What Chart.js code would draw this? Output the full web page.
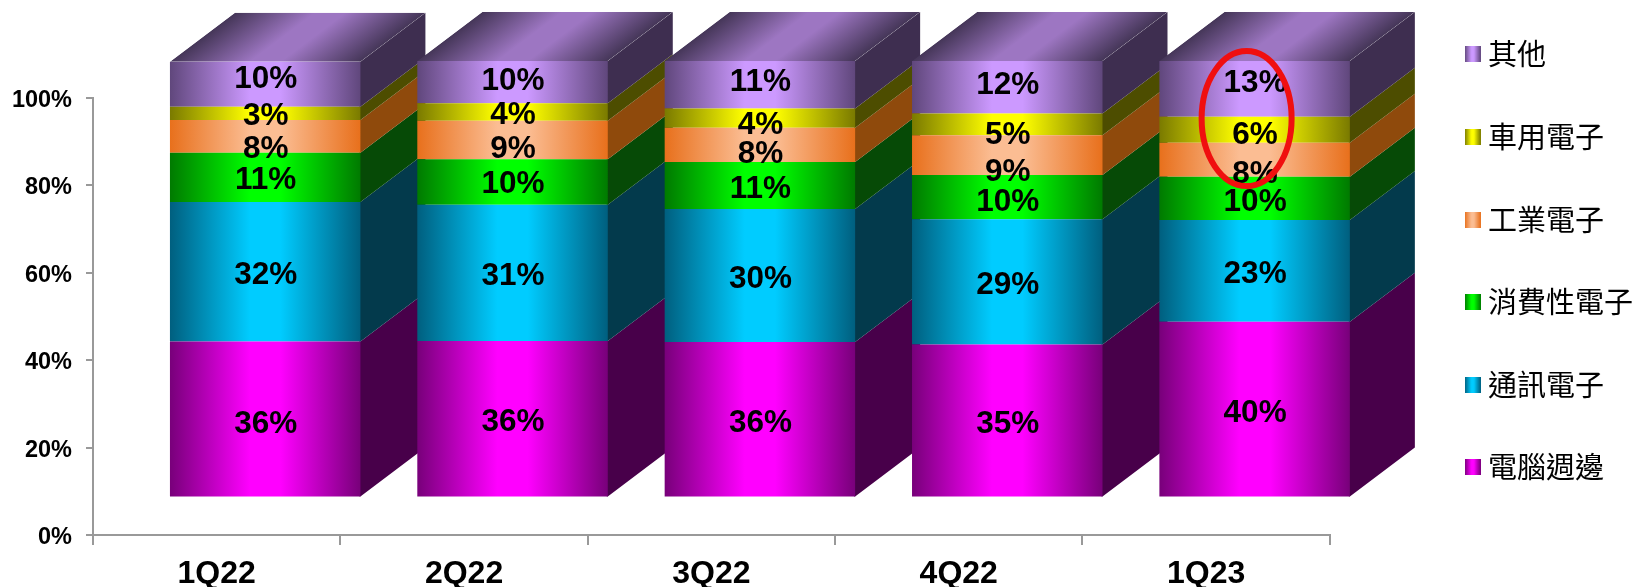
<!DOCTYPE html>
<html>
<head>
<meta charset="utf-8">
<title>1Q22-1Q23 應用別比重</title>
<script src="https://cdn.jsdelivr.net/npm/chart.js@4"></script>
<style>
  html, body { margin: 0; padding: 0; background: #fff; }
  canvas { display: block; }
</style>
</head>
<body>
<canvas id="share-chart" width="1636" height="587"></canvas>
<script>
// === 1. Data ===

const quarters = ['1Q22', '2Q22', '3Q22', '4Q22', '1Q23'];
const yTickLabels = ['0%', '20%', '40%', '60%', '80%', '100%'];

// Share per quarter (%), bottom of the stack first
const pcPeripheral = [35.7, 35.8, 35.6, 35.0, 40.2];
const communication = [31.9, 31.2, 30.4, 28.7, 23.3];
const consumer = [11.3, 10.4, 10.8, 10.1, 9.9];
const industrial = [7.5, 8.8, 7.8, 9.1, 7.8];
const automotive = [3.0, 4.0, 4.4, 5.0, 5.9];
const others = [10.3, 9.7, 10.9, 12.0, 12.8];

const seriesNames = ['電腦週邊', '通訊電子', '消費性電子', '工業電子', '車用電子', '其他'];
const seriesValues = [pcPeripheral, communication, consumer, industrial, automotive, others];

// === 2. Styles ===

// [edge of the front face, middle of the front face, side face]
const seriesColors = [
  ['#78007a', '#ff00ff', '#48004a'],
  ['#005f7f', '#00ccff', '#033a4c'],
  ['#007a00', '#00ff00', '#064a06'],
  ['#e8701c', '#fbbd93', '#8f4a0c'],
  ['#7a7a00', '#ffff00', '#4d4d00'],
  ['#60477c', '#cc99ff', '#3e2e50']
];
const topEdge = '#453658';
const topMiddle = '#9d76c2';

const FONT = '"Liberation Sans", Arial, sans-serif';
const CJK_FONT = '"Noto Sans CJK TC", sans-serif';

// The bars sit up and to the right of the axes, as in a 3D chart
const SHIFT_X = 48.5;
const SHIFT_Y = -37.5;
const DEPTH_X = 65;
const DEPTH_Y = 49;

// Hand placed offsets (px) of the value labels from the segment middle, per series
const labelNudge = [
  [3, 2, 2, 1.5, 2],
  [1.5, 1, 1.5, 1.5, 1],
  [1, 0, 1.5, 3, 2],
  [11, 7, 7, 15, 13],
  [1, 1, 5, 9, 4],
  [-7.5, -3, -4.7, -4, -8]
];
const LABEL_BASELINE_FIX = 2;

// === 3. Helpers ===

/** Horizontal edge-middle-edge gradient between two x positions. */
function faceGradient(ctx, left, right, edge, middle) {
  const g = ctx.createLinearGradient(left, 0, right, 0);
  g.addColorStop(0, edge);
  g.addColorStop(0.42, middle);
  g.addColorStop(0.58, middle);
  g.addColorStop(1, edge);
  return g;
}

/** Small gradient square used as a legend marker. */
function legendSwatch(edge, middle) {
  const c = document.createElement('canvas');
  c.width = 16;
  c.height = 16;
  const g = c.getContext('2d');
  g.fillStyle = faceGradient(g, 0, 16, edge, middle);
  g.fillRect(0, 0, 16, 16);
  return c;
}

function polygon(ctx, points, fill) {
  ctx.beginPath();
  points.forEach((p, i) => (i ? ctx.lineTo(p[0], p[1]) : ctx.moveTo(p[0], p[1])));
  ctx.closePath();
  ctx.fillStyle = fill;
  ctx.fill();
}

// === 4. Plugin for the 3D faces, value labels and the red mark ===

const boxPlugin = {
  id: 'box3d',
  afterLayout(chart) {
    // Legend keeps its place in the right hand column
    chart.legend.left = 1418;
    chart.legend.top = -13.7;
  },
  beforeDatasetsDraw(chart) {
    const ctx = chart.ctx;
    ctx.save();
    ctx.translate(SHIFT_X, SHIFT_Y);

    // Left to right, so a bar's faces cover the one before it
    quarters.forEach((_, i) => {
      seriesValues.forEach((_, s) => {
        const bar = chart.getDatasetMeta(s).data[i];
        const r = bar.x + bar.width / 2;
        // Start 1px under the front face so no seam shows
        polygon(ctx, [
          [r - 1, bar.y], [r, bar.y], [r + DEPTH_X, bar.y - DEPTH_Y],
          [r + DEPTH_X, bar.base - DEPTH_Y], [r, bar.base], [r - 1, bar.base]
        ], seriesColors[s][2]);
      });

      const top = chart.getDatasetMeta(seriesValues.length - 1).data[i];
      const l = top.x - top.width / 2;
      ctx.save();
      ctx.beginPath();
      ctx.moveTo(l, top.y);
      ctx.lineTo(l + DEPTH_X, top.y - DEPTH_Y);
      ctx.lineTo(l + top.width + DEPTH_X, top.y - DEPTH_Y);
      ctx.lineTo(l + top.width, top.y);
      ctx.closePath();
      ctx.clip();
      // Shear the gradient along the depth direction
      ctx.transform(1, 0, -DEPTH_X / DEPTH_Y, 1, top.y * DEPTH_X / DEPTH_Y, 0);
      ctx.fillStyle = faceGradient(ctx, l, l + top.width, topEdge, topMiddle);
      ctx.fillRect(l, top.y - DEPTH_Y, top.width, DEPTH_Y);
      ctx.restore();
    });
  },
  afterDatasetsDraw(chart) {
    const ctx = chart.ctx;

    // Still shifted by beforeDatasetsDraw
    ctx.fillStyle = '#000';
    ctx.font = 'bold 31.5px ' + FONT;
    ctx.textAlign = 'center';
    ctx.textBaseline = 'middle';
    seriesValues.forEach((values, s) => {
      chart.getDatasetMeta(s).data.forEach((bar, i) => {
        const y = (bar.y + bar.base) / 2 + labelNudge[s][i] + LABEL_BASELINE_FIX;
        ctx.fillText(Math.round(values[i]) + '%', bar.x + 0.5, y);
      });
    });
    ctx.restore();

    // Red ring round the last quarter's upper segments
    const cx = chart.scales.x.getPixelForValue(quarters.length - 1) + SHIFT_X - 8;
    const cy = chart.scales.y.getPixelForValue(86.7) + SHIFT_Y;
    ctx.save();
    ctx.strokeStyle = '#f00f0f';
    ctx.lineWidth = 6;
    ctx.beginPath();
    ctx.ellipse(cx, cy, 45, 67.5, 0, 0, Math.PI * 2);
    ctx.stroke();
    ctx.restore();
  }
};

// === 5. Chart ===

const canvas = document.getElementById('share-chart');

new Chart(canvas.getContext('2d'), {
  type: 'bar',
  plugins: [boxPlugin],
  data: {
    labels: quarters,
    datasets: seriesValues.map((values, s) => ({
      label: seriesNames[s],
      data: values,
      clip: false,
      borderWidth: 0,
      categoryPercentage: 0.77,
      barPercentage: 1,
      backgroundColor: c => {
        const sx = c.chart.scales.x;
        if (!sx || !sx.width) return seriesColors[s][1];
        const half = sx.width / quarters.length * 0.77 / 2;
        const mid = sx.getPixelForValue(c.dataIndex);
        return faceGradient(c.chart.ctx, mid - half, mid + half, seriesColors[s][0], seriesColors[s][1]);
      }
    }))
  },
  options: {
    responsive: false,
    animation: false,
    layout: { padding: { top: 98, right: -105, bottom: 0, left: 0 } },
    plugins: {
      title: { display: false },
      tooltip: { enabled: false },
      legend: {
        position: 'right',
        align: 'start',
        labels: {
          usePointStyle: true,
          pointStyleWidth: 2,
          padding: 53.6,
          color: '#000',
          font: { family: CJK_FONT, size: 29 },
          generateLabels: () => seriesNames.map((name, s) => ({
            text: name,
            datasetIndex: s,
            fontColor: '#000',
            pointStyle: legendSwatch(seriesColors[s][0], seriesColors[s][1])
          })).reverse()
        }
      }
    },
    scales: {
      x: {
        stacked: true,
        afterFit: scale => { scale.height = 52; },
        border: { color: '#999', width: 2 },
        grid: { drawOnChartArea: false, color: '#999', lineWidth: 2, tickLength: 10, offset: true },
        ticks: { color: '#000', padding: 10, maxRotation: 0, font: { family: FONT, size: 32, weight: 'bold' } }
      },
      y: {
        stacked: true,
        min: 0,
        max: 100,
        afterFit: scale => { scale.width = 93; },
        border: { color: '#999', width: 2 },
        grid: { drawOnChartArea: false, color: '#999', lineWidth: 2, tickLength: 7 },
        ticks: {
          stepSize: 20,
          color: '#000',
          padding: 14,
          labelOffset: 2.5,
          font: { family: FONT, size: 23.5, weight: 'bold' },
          callback: (value, i) => yTickLabels[i]
        }
      }
    }
  }
});
</script>
</body>
</html>
